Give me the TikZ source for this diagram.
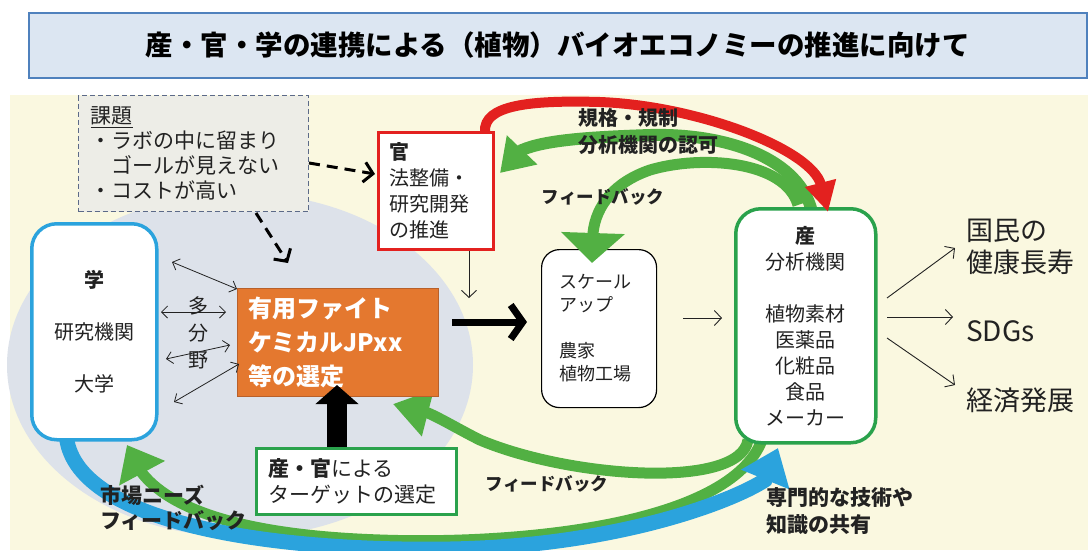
\documentclass[tikz,border=0pt]{standalone}
\usepackage{fontspec}
\setmainfont{Noto Sans CJK JP}
\usetikzlibrary{arrows.meta,calc}
\definecolor{bgyellow}{HTML}{FAF8E0}
\definecolor{ellgray}{HTML}{DDE2EA}
\definecolor{titlefill}{HTML}{DCE6F2}
\definecolor{titleline}{HTML}{4F81BD}
\definecolor{kadaifill}{HTML}{EDEDE7}
\definecolor{kadailine}{HTML}{5C6A88}
\definecolor{gakublue}{HTML}{2BA3DD}
\definecolor{arrgreen}{HTML}{52B043}
\definecolor{boxgreen}{HTML}{2AA24C}
\definecolor{kanred}{HTML}{E3211F}
\definecolor{orangefill}{HTML}{E4782F}
\definecolor{orangeline}{HTML}{B8602A}
\definecolor{txt}{HTML}{222222}
\begin{document}
\begin{tikzpicture}[x=1pt,y=-1pt,
  box/.style={draw, fill=white, inner sep=0pt, text=txt},
  lbl/.style={inner sep=0pt, text=txt},
  thinarrow/.style={draw=txt, line width=0.9pt, -{Straight Barb[length=7pt,width=15pt]}},
  dblarrow/.style={draw=txt, line width=0.8pt, {Straight Barb[length=6pt,width=12pt]}-{Straight Barb[length=6pt,width=12pt]}},
  dasharrow/.style={draw=black, line width=3pt, dash pattern=on 11pt off 7pt, -{Straight Barb[length=9pt,width=20pt]}},
  band/.style={line width=11pt, draw=arrgreen},
]
\useasboundingbox (0,0) rectangle (1088,550);
\fill[white] (0,0) rectangle (1088,550);
\fill[bgyellow] (10,95) rectangle (1088,550);
\fill[ellgray] (240,365) ellipse [x radius=233, y radius=172];

% title
\node[draw=titleline, line width=1.5pt, fill=titlefill, minimum width=1058pt, minimum height=65pt,
  anchor=north west, inner sep=0pt, text=black, font=\fontsize{27.5}{30}\selectfont\bfseries] (title) at (28,12)
  {産・官・学の連携による（植物）バイオエコノミーの推進に向けて};

% kadai box
\node[draw=kadailine, line width=1.2pt, dash pattern=on 5pt off 3pt, fill=kadaifill, anchor=north west,
  minimum width=230pt, minimum height=116pt, inner xsep=12pt, inner ysep=0pt, text width=206pt, align=left,
  text=txt, font=\fontsize{21}{25}\selectfont] (kadai) at (78,95)
  {\underline{課題}\\・ラボの中に留まり\\　ゴールが見えない\\・コストが高い};

% curved arrows (under boxes)
\coordinate (g1s) at (812,212);
\coordinate (g1m) at (522,150);
\coordinate (g1e) at (500,173);
\draw[band, line width=12pt, -{Triangle[length=32pt,width=40pt]}]
  (g1s) .. controls (800,160) and (730,133) .. (650,135) .. controls (590,137) and (545,140) .. (g1m) -- (g1e);

\coordinate (g3s) at (748,440);
\coordinate (g3m) at (428,413);
\coordinate (g3e) at (393,404);
\draw[band, -{Triangle[length=36pt,width=46pt]}]
  (g3s) .. controls (740,490) and (570,478) .. (480,440) .. controls (460,430) and (440,418) .. (g3m) -- (g3e);

\coordinate (g4s) at (762,440);
\coordinate (g4m) at (142,473);
\coordinate (g4e) at (127,445);
\draw[band, -{Triangle[length=32pt,width=50pt]}]
  (g4s) .. controls (730,525) and (520,545) .. (380,540) .. controls (260,536) and (175,515) .. (g4m) -- (g4e);

\coordinate (bls) at (66,430);
\coordinate (blm) at (765,480);
\coordinate (ble) at (778,448);
\draw[line width=15pt, draw=gakublue, -{Triangle[length=34pt,width=50pt]}]
  (bls) .. controls (66,520) and (260,552) .. (450,549) .. controls (620,546) and (735,500) .. (blm) -- (ble);

% boxes
\node[box, draw=gakublue, line width=3.5pt, rounded corners=25pt, anchor=north west, minimum width=125pt,
  minimum height=216pt, align=center, font=\fontsize{20}{26}\selectfont] (gaku) at (30,222)
  {\textbf{学}\\[26pt]研究機関\\[26pt]大学};

\node[box, draw=kanred, line width=3pt, anchor=north west, minimum width=115pt, minimum height=117pt,
  inner xsep=11pt, text width=93pt, align=left, font=\fontsize{20}{26}\selectfont] (kan) at (377,131)
  {\textbf{官}\\法整備・\\研究開発\\の推進};

\node[fill=orangefill, draw=orangeline, line width=1pt, anchor=north west, minimum width=201pt,
  minimum height=108pt, inner xsep=11pt, inner ysep=0pt, text width=179pt, align=left, text=white,
  font=\fontsize{24}{34}\selectfont\bfseries] (jp) at (237,288)
  {有用ファイト\\ケミカルJPxx\\等の選定};

\node[box, draw=black, line width=1.2pt, rounded corners=18pt, anchor=north west, minimum width=115pt,
  minimum height=158pt, inner xsep=18pt, text width=79pt, align=left, font=\fontsize{18}{23}\selectfont] (scale) at (541,249)
  {スケール\\アップ\\[23pt]農家\\植物工場};

\node[box, draw=boxgreen, line width=3.5pt, rounded corners=25pt, anchor=north west, minimum width=140pt,
  minimum height=234pt, align=center, font=\fontsize{20}{26}\selectfont] (san) at (734,207)
  {\textbf{産}\\分析機関\\[26pt]植物素材\\医薬品\\化粧品\\食品\\メーカー};

\node[box, draw=boxgreen, line width=3pt, anchor=north west, minimum width=200pt, minimum height=66pt,
  inner xsep=12pt, text width=176pt, align=left, font=\fontsize{21}{26}\selectfont] (sankan) at (255,447)
  {\textbf{産・官}による\\ターゲットの選定};

% feedback arrow onto the scale-up box (drawn over it)
\coordinate (g2s) at (798,205);
\coordinate (g2m) at (593,233);
\coordinate (g2e) at (592,263);
\draw[band, -{Triangle[length=30pt,width=62pt]}]
  (g2s) .. controls (785,160) and (700,155) .. (650,170) .. controls (615,182) and (596,205) .. (g2m) -- (g2e);

% red arrow
\coordinate (rs) at (485,132);
\coordinate (re) at (828,212);
\draw[line width=10pt, draw=kanred, -{Triangle[length=30pt,width=30pt]}]
  (rs) .. controls (483,105) and (530,100) .. (600,102) .. controls (700,106) and (812,150) .. (re);

% dashed arrows
\coordinate (da1) at (309,163);
\coordinate (da2) at (375,174);
\draw[dasharrow] (da1) -- (da2);
\coordinate (db1) at (256,213);
\coordinate (db2) at (288,263);
\draw[dasharrow] (db1) -- (db2);

% thin double arrows gaku <-> jp
\coordinate (d1a) at (172,262); \coordinate (d1b) at (237,289);
\coordinate (d2a) at (161,312); \coordinate (d2b) at (226,312);
\coordinate (d3a) at (166,359); \coordinate (d3b) at (230,345);
\coordinate (d4a) at (174,402); \coordinate (d4b) at (239,364);
\draw[dblarrow] (d1a) -- (d1b);
\draw[dblarrow] (d2a) -- (d2b);
\draw[dblarrow] (d3a) -- (d3b);
\draw[dblarrow] (d4a) -- (d4b);
\node[lbl, font=\fontsize{20}{24}\selectfont] (ta) at (198,306) {多};
\node[lbl, font=\fontsize{20}{24}\selectfont] (bun) at (198,333) {分};
\node[lbl, font=\fontsize{20}{24}\selectfont] (ya) at (198,360) {野};

% kan down arrow
\coordinate (kd) at (469,298);
\draw[thinarrow] (kan.south -| kd) -- (kd);

% big black arrows
\coordinate (bk1) at (452,322);
\coordinate (bk2) at (527,322);
\draw[line width=7pt, -{Straight Barb[length=12pt,width=34pt]}] (bk1) -- (bk2);
\coordinate (up1) at (337,447);
\coordinate (up2) at (337,385);
\draw[line width=20pt, -{Triangle[length=19pt,width=42pt]}] (up1) -- (up2);

% scale -> san
\coordinate (sa1) at (683,318);
\coordinate (sa2) at (722,318);
\draw[thinarrow] (sa1) -- (sa2);

% outputs
\node[lbl, anchor=west, align=left, font=\fontsize{27}{32}\selectfont] (kenko) at (966,247) {国民の\\健康長寿};
\node[lbl, anchor=west, font=\fontsize{28}{32}\selectfont] (sdgs) at (966,331) {SDGs};
\node[lbl, anchor=west, font=\fontsize{27}{32}\selectfont] (keizai) at (966,400) {経済発展};
\coordinate (o1) at (887,298); \coordinate (o2) at (887,317); \coordinate (o3) at (887,338);
\draw[thinarrow] (o1) -- (955,248);
\draw[thinarrow] (o2) -- (953,317);
\draw[thinarrow] (o3) -- (955,385);

% labels
\node[lbl, anchor=west, align=left, font=\fontsize{20}{27}\selectfont\bfseries] (kikaku) at (578,131.5)
  {規格・規制\\分析機関の認可};
\node[lbl, font=\fontsize{17.5}{20}\selectfont\bfseries] (fb1) at (603,197) {フィードバック};
\node[lbl, font=\fontsize{17.5}{20}\selectfont\bfseries] (fb2) at (547,484) {フィードバック};
\node[lbl, anchor=west, align=left, font=\fontsize{21}{25}\selectfont\bfseries] (market) at (100,507.5)
  {市場ニーズ\\フィードバック};
\node[lbl, anchor=west, align=left, font=\fontsize{21}{27}\selectfont\bfseries] (senmon) at (766,511)
  {専門的な技術や\\知識の共有};
\end{tikzpicture}
\end{document}
